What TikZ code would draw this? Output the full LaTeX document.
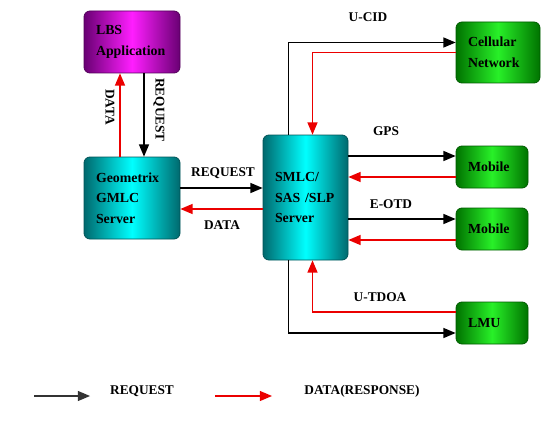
\documentclass[tikz,border=0pt]{standalone}
\usepackage{fontspec}
\setmainfont{Liberation Serif}
\usepackage{tikz}
\usetikzlibrary{arrows,shapes,positioning,calc}
\definecolor{lbsdark}{RGB}{105,0,115}
\definecolor{lbslight}{RGB}{255,30,255}
\definecolor{srvdark}{RGB}{0,105,110}
\definecolor{srvlight}{RGB}{0,255,255}
\definecolor{netdark}{RGB}{0,115,0}
\definecolor{netlight}{RGB}{40,240,40}
\definecolor{datared}{RGB}{235,0,0}
\tikzstyle{reqline} = [line width=1.1pt,->,>=triangle 45,color=black]
\tikzstyle{dataline} = [line width=1.1pt,->,>=triangle 45,color=datared]
\tikzstyle{unitbox} = [rectangle, rounded corners=4.5pt, align=left, inner xsep=9pt, inner ysep=0pt, font=\fontsize{10.4}{15.5}\selectfont\bfseries, line width=0.6pt]
\tikzstyle{lbsbox} = [unitbox, draw=lbsdark!80!black, left color=lbsdark, right color=lbsdark, middle color=lbslight]
\tikzstyle{serverbox} = [unitbox, draw=srvdark!80!black, left color=srvdark, right color=srvdark, middle color=srvlight]
\tikzstyle{netbox} = [unitbox, draw=netdark!80!black, left color=netdark, right color=netdark, middle color=netlight]
\tikzstyle{lbl} = [font=\fontsize{10}{12}\selectfont\bfseries, inner sep=1pt]

\begin{document}
\begin{tikzpicture}[x=0.75pt,y=-0.75pt]
\useasboundingbox (0,0) rectangle (553,428);

% boxes
\node[lbsbox, text width=54pt, minimum height=46.5pt] (lbs) at (132,42) {LBS\\Application};
\node[serverbox, text width=54pt, minimum height=61.5pt] (gmlc) at (132,198) {Geometrix\\GMLC\\Server};
\node[serverbox, text width=45.75pt, minimum height=93.75pt] (smlc) at (305.5,197.5) {SMLC/\\SAS /SLP\\Server};
\node[netbox, text width=45pt, minimum height=45.75pt] (cell) at (498,52.5) {Cellular\\Network};
\node[netbox, text width=36pt, minimum height=31.5pt] (mob1) at (492,167) {Mobile};
\node[netbox, text width=36pt, minimum height=31.5pt] (mob2) at (492,229) {Mobile};
\node[netbox, text width=36pt, minimum height=31.5pt] (lmu) at (492,323) {LMU};

% LBS <-> GMLC
\draw[dataline] ([xshift=-9pt]gmlc.north) -- ([xshift=-9pt]lbs.south);
\draw[reqline] ([xshift=9pt]lbs.south) -- ([xshift=9pt]gmlc.north);
\node[lbl, rotate=-90] (lbsdata) at (110,107) {DATA};
\node[lbl, rotate=-90] (lbsreq) at (159,110) {REQUEST};

% GMLC <-> SMLC
\coordinate (gmlcout) at ([yshift=7.5pt]gmlc.east);
\coordinate (gmlcin) at ([yshift=-8.25pt]gmlc.east);
\draw[reqline] (gmlcout) -- (smlc.west |- gmlcout);
\draw[dataline] (smlc.west |- gmlcin) -- (gmlcin);
\node[lbl] (gmlcreq) at (223,173) {REQUEST};
\node[lbl] (gmlcdata) at (222,225) {DATA};

% SMLC <-> cellular network
\draw[reqline] ([xshift=-12.75pt]smlc.north) |- ([yshift=7.5pt]cell.west);
\draw[dataline] (cell.west) -| ([xshift=5.25pt]smlc.north);
\node[lbl] (ucid) at (368,17) {U-CID};

% SMLC <-> mobiles
\coordinate (mob1in) at ([yshift=8.25pt]mob1.west);
\coordinate (mob1out) at ([yshift=-7.5pt]mob1.west);
\draw[reqline] (smlc.east |- mob1in) -- (mob1in);
\draw[dataline] (mob1out) -- (smlc.east |- mob1out);
\node[lbl] (gps) at (386,131) {GPS};
\coordinate (mob2in) at ([yshift=7.5pt]mob2.west);
\coordinate (mob2out) at ([yshift=-8.25pt]mob2.west);
\draw[reqline] (smlc.east |- mob2in) -- (mob2in);
\draw[dataline] (mob2out) -- (smlc.east |- mob2out);
\node[lbl] (eotd) at (391,204) {E-OTD};

% SMLC <-> LMU
\draw[dataline] ([yshift=8.25pt]lmu.west) -| ([xshift=5.25pt]smlc.south);
\draw[reqline] ([xshift=-12.75pt]smlc.south) |- ([yshift=-7.5pt]lmu.west);
\node[lbl] (utdoa) at (380,297) {U-TDOA};

% legend
\coordinate (reqa) at (34,396);
\coordinate (reqb) at (90,396);
\coordinate (dataa) at (215,396);
\coordinate (datab) at (272,396);
\draw[reqline, color=black!80] (reqa) -- (reqb);
\draw[dataline] (dataa) -- (datab);
\node[lbl] (legreq) at (142,391) {REQUEST};
\node[lbl] (legdata) at (362,391) {DATA(RESPONSE)};
\end{tikzpicture}
\end{document}
